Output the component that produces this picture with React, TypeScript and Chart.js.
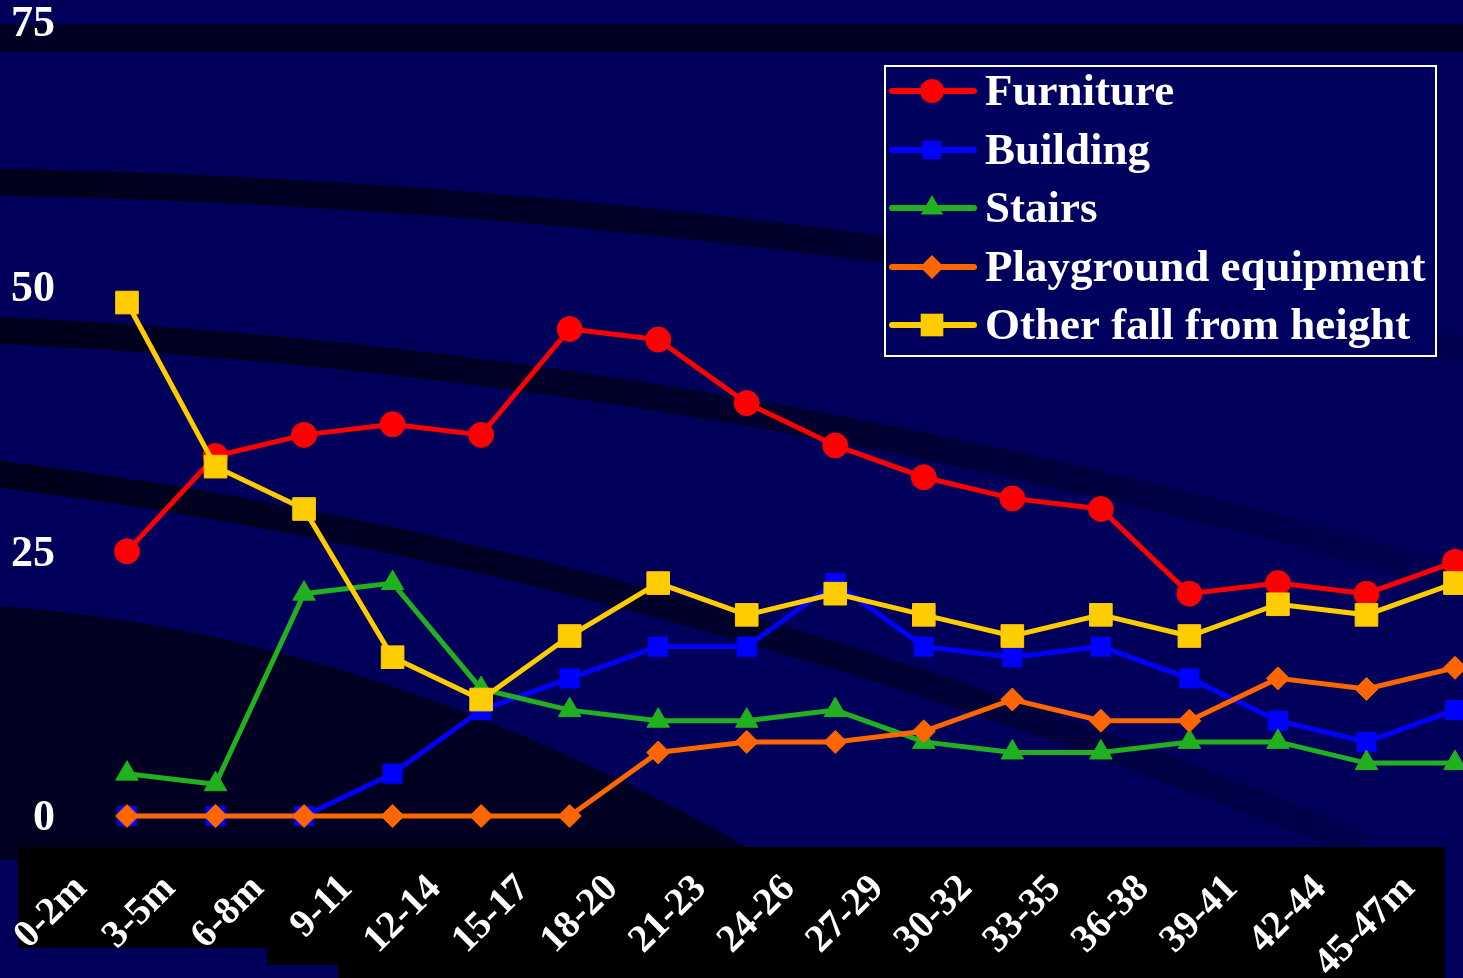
import React, { useEffect, useRef } from 'react';
import { Chart, registerables } from 'chart.js';

Chart.register(...registerables);

const categories = ['0-2m', '3-5m', '6-8m', '9-11', '12-14', '15-17', '18-20', '21-23', '24-26', '27-29', '30-32', '33-35', '36-38', '39-41', '42-44', '45-47m'];
const seriesNames = ['Furniture', 'Building', 'Stairs', 'Playground equipment', 'Other fall from height'];
const furniture = [25, 34, 36, 37, 36, 46, 45, 39, 35, 32, 30, 29, 21, 22, 21, 24];
const building = [0, 0, 0, 4, 10, 13, 16, 16, 22, 16, 15, 16, 13, 9, 7, 10];
const stairs = [4, 3, 21, 22, 12, 10, 9, 9, 10, 7, 6, 6, 7, 7, 5, 5];
const playground = [0, 0, 0, 0, 0, 0, 6, 7, 7, 8, 11, 9, 9, 13, 12, 14];
const otherFall = [48.5, 33, 29, 15, 11, 17, 22, 19, 21, 19, 17, 19, 17, 20, 19, 22];
const yTicks = [0, 25, 50, 75];

const NAVY = '#00005a';
const DARK = '#000022';
const SERIF = '"Liberation Serif", "Times New Roman", serif';

const backgroundPlugin = {
  id: 'bgDecor',
  beforeDraw(chart: any) {
    const { ctx, width, height } = chart;
    ctx.save();
    ctx.fillStyle = NAVY;
    ctx.fillRect(0, 0, width, height);
    ctx.lineCap = 'butt';
    ctx.lineWidth = 27;
    ctx.strokeStyle = '#000022';
    ctx.beginPath();
    ctx.moveTo(-20, 38);
    ctx.lineTo(width + 20, 38);
    ctx.stroke();
    const grad = ctx.createLinearGradient(0, 0, width, 0);
    grad.addColorStop(0, 'rgba(0,0,28,1)');
    grad.addColorStop(0.55, 'rgba(0,0,40,0.9)');
    grad.addColorStop(1, 'rgba(0,0,60,0.3)');
    ctx.strokeStyle = grad;
    const bands = [
      [[-10, 182], [728, 194], [1480, 352]],
      [[-10, 330], [728, 362], [1480, 585]],
      [[-10, 473], [660, 555], [1360, 845]],
    ];
    bands.forEach((b) => {
      ctx.beginPath();
      ctx.moveTo(b[0][0], b[0][1]);
      ctx.quadraticCurveTo(b[1][0], b[1][1], b[2][0], b[2][1]);
      ctx.stroke();
    });
    ctx.fillStyle = DARK;
    ctx.beginPath();
    ctx.moveTo(0, 606);
    ctx.quadraticCurveTo(380, 633, 770, 860);
    ctx.lineTo(0, 860);
    ctx.closePath();
    ctx.fill();
    ctx.fillStyle = '#000000';
    ctx.beginPath();
    ctx.moveTo(18, 847);
    ctx.lineTo(1445, 847);
    ctx.lineTo(1445, height);
    ctx.lineTo(338, height);
    ctx.lineTo(338, 965);
    ctx.lineTo(267, 965);
    ctx.lineTo(267, 948);
    ctx.lineTo(18, 948);
    ctx.closePath();
    ctx.fill();
    ctx.restore();
  },
};

function drawMarker(ctx: CanvasRenderingContext2D, style: string, x: number, y: number, r: number) {
  ctx.beginPath();
  if (style === 'circle') {
    ctx.arc(x, y, r, 0, Math.PI * 2);
  } else if (style === 'rect') {
    const s = r * Math.SQRT1_2;
    ctx.rect(x - s, y - s, 2 * s, 2 * s);
  } else if (style === 'triangle') {
    for (let i = 0; i < 3; i++) {
      const a = -Math.PI / 2 + (i * 2 * Math.PI) / 3;
      const px = x + Math.cos(a) * r;
      const py = y + Math.sin(a) * r;
      if (i === 0) ctx.moveTo(px, py);
      else ctx.lineTo(px, py);
    }
    ctx.closePath();
  } else if (style === 'rectRot') {
    ctx.moveTo(x - r, y);
    ctx.lineTo(x, y - r);
    ctx.lineTo(x + r, y);
    ctx.lineTo(x, y + r);
    ctx.closePath();
  }
  ctx.fill();
}

const legendPlugin = {
  id: 'boxLegend',
  afterDraw(chart: any) {
    const { ctx } = chart;
    const x0 = 885;
    const y0 = 66;
    const w = 551;
    const h = 290;
    ctx.save();
    ctx.fillStyle = 'rgba(0,0,96,0.85)';
    ctx.fillRect(x0, y0, w, h);
    ctx.strokeStyle = '#ffffff';
    ctx.lineWidth = 2;
    ctx.strokeRect(x0, y0, w, h);
    const rows = [91, 150, 208, 267, 325];
    chart.data.datasets.forEach((ds: any, i: number) => {
      const y = rows[i];
      ctx.strokeStyle = ds.borderColor;
      ctx.lineWidth = 6;
      ctx.lineCap = 'round';
      ctx.beginPath();
      ctx.moveTo(892, y);
      ctx.lineTo(974, y);
      ctx.stroke();
      ctx.fillStyle = ds.borderColor;
      drawMarker(ctx, ds.pointStyle, 932, y, ds.legendRadius);
      ctx.fillStyle = '#ffffff';
      ctx.font = `bold 45px ${SERIF}`;
      ctx.textAlign = 'left';
      ctx.textBaseline = 'middle';
      ctx.fillText(ds.label, 985, y + 2);
    });
    ctx.restore();
  },
};

const zeroPad = (scale: any) => {
  scale.paddingLeft = 0;
  scale.paddingRight = 0;
  scale.paddingTop = 0;
  scale.paddingBottom = 0;
};

export default function App() {
  const canvasRef = useRef<HTMLCanvasElement | null>(null);

  useEffect(() => {
    document.body.style.margin = '0';
    const canvas = canvasRef.current;
    if (!canvas) return;
    const mk = (label: string, data: number[], color: string, pointStyle: string, radius: number, legendRadius: number, order: number) => ({
      label,
      data,
      borderColor: color,
      backgroundColor: color,
      pointBackgroundColor: color,
      pointBorderColor: color,
      pointBorderWidth: 1,
      pointStyle,
      pointRadius: radius,
      borderWidth: 5,
      tension: 0,
      clip: false,
      order,
      legendRadius,
    });
    const chart = new Chart(canvas, {
      type: 'line',
      data: {
        labels: categories,
        datasets: [
          mk(seriesNames[0], furniture, '#ff0000', 'circle', 12.5, 12, 4),
          mk(seriesNames[1], building, '#0000ff', 'rect', 13.5, 13, 3),
          mk(seriesNames[2], stairs, '#20b020', 'triangle', 13, 13, 2),
          mk(seriesNames[3], playground, '#ff6600', 'rectRot', 11.5, 12, 1),
          mk(seriesNames[4], otherFall, '#ffcc00', 'rect', 16, 16, 0),
        ] as any,
      },
      options: {
        responsive: false,
        animation: false,
        events: [],
        layout: { autoPadding: false, padding: { top: 22, right: 8, left: 0, bottom: 0 } },
        plugins: {
          legend: { display: false },
          tooltip: { enabled: false },
        },
        scales: {
          x: {
            type: 'category',
            offset: false,
            grid: { display: false, drawTicks: false },
            border: { display: false },
            ticks: {
              autoSkip: false,
              maxRotation: 45,
              minRotation: 45,
              color: '#ffffff',
              font: { family: SERIF, size: 39, weight: 'bold' },
              labelOffset: -46,
              padding: 50,
            },
            afterFit: (scale: any) => {
              scale.height = 162;
              zeroPad(scale);
            },
          },
          y: {
            min: 0,
            max: 75,
            afterBuildTicks: (scale: any) => {
              scale.ticks = yTicks.map((v) => ({ value: v }));
            },
            grid: { display: false, drawTicks: false },
            border: { display: false },
            ticks: {
              color: '#ffffff',
              font: { family: SERIF, size: 44, weight: 'bold', lineHeight: 1 },
              padding: 72,
              labelOffset: 3,
            },
            afterFit: (scale: any) => {
              scale.width = 127;
              zeroPad(scale);
            },
          },
        },
      } as any,
      plugins: [backgroundPlugin, legendPlugin],
    });
    return () => chart.destroy();
  }, []);

  return (
    <div style={{ width: 1463, height: 978, overflow: 'hidden' }}>
      <canvas ref={canvasRef} width={1463} height={978} style={{ display: 'block', width: 1463, height: 978 }} />
    </div>
  );
}
